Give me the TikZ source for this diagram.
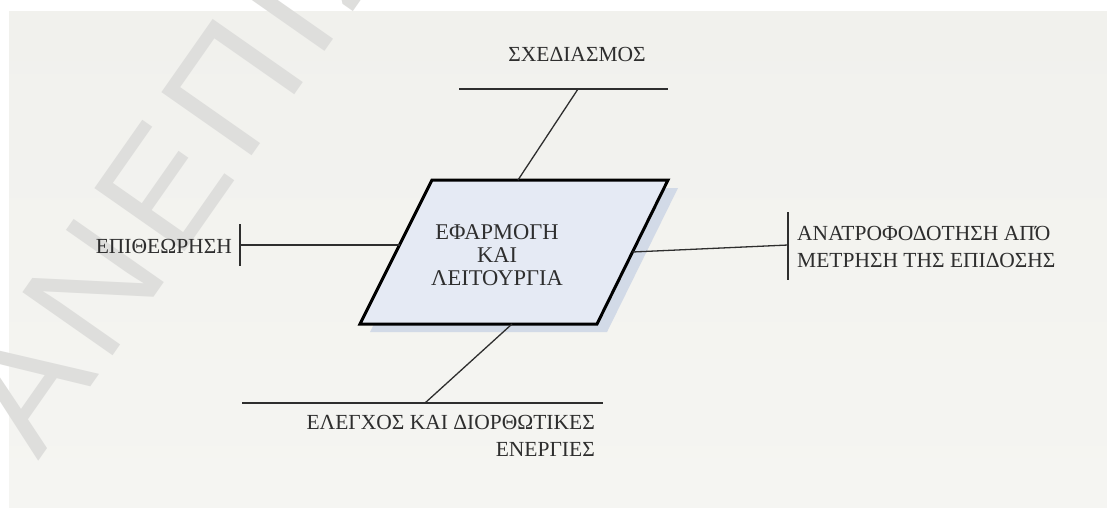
\documentclass[tikz,border=0pt]{standalone}
\usepackage{fontspec}
\setmainfont{Liberation Serif}
\newfontfamily\wmfont[LetterSpace=6.5]{Liberation Sans}
\definecolor{panel}{HTML}{F1F1ED}
\definecolor{panellow}{HTML}{F5F5F2}
\definecolor{wmgray}{HTML}{DEDEDC}
\definecolor{boxfill}{HTML}{E5EAF4}
\definecolor{boxshadow}{HTML}{D2DAE7}
\definecolor{ink}{HTML}{2E2E2E}
\tikzset{
  label/.style={font=\fontsize{21.5}{27}\selectfont, text=ink, inner sep=0pt},
  link/.style={draw=ink, line width=1.3pt},
  tick/.style={draw=ink, line width=1.6pt},
}
\begin{document}
\begin{tikzpicture}[x=1pt, y=-1pt]
  % canvas and grey panel
  \useasboundingbox (0,0) rectangle (1107,507);
  \fill[white] (0,0) rectangle (1107,507);
  \shade[top color=panel, bottom color=panellow] (9,11) rectangle (1107,507);

  % faint diagonal watermark
  \begin{scope}
    \clip (0,0) rectangle (1107,507);
    \node[anchor=base west, rotate=55, inner sep=0pt, text=wmgray,
          font=\wmfont\fontsize{160}{160}\selectfont] (wm) at (38,462) {ΑΝΕΠΙΣΗΜΟ};
  \end{scope}

  % central parallelogram with its soft shadow
  \coordinate (tl) at (432,180);
  \coordinate (tr) at (668,180);
  \coordinate (br) at (597,324);
  \coordinate (bl) at (360,324);
  \fill[boxshadow] ([shift={(10,8)}]tl) -- ([shift={(10,8)}]tr) -- ([shift={(10,8)}]br) -- ([shift={(10,8)}]bl) -- cycle;
  \filldraw[fill=boxfill, draw=black, line width=3pt, line join=miter] (tl) -- (tr) -- (br) -- (bl) -- cycle;
  \node[label, align=center, font=\fontsize{22.5}{23}\selectfont] (core) at (497,255)
    {ΕΦΑΡΜΟΓΗ\\ΚΑΙ\\ΛΕΙΤΟΥΡΓΙΑ};

  % attachment points on the parallelogram
  \coordinate (topin) at (518,180);
  \coordinate (leftin) at (399.5,245);
  \coordinate (rightin) at (632.5,252);
  \coordinate (botin) at (512,324);

  % top branch
  \coordinate (topa) at (459,89);
  \coordinate (topb) at (668,89);
  \coordinate (topj) at (578,89);
  \draw[link] (topa) -- (topb);
  \draw[link] (topj) -- (topin);
  \node[label] (plan) at (577,54) {ΣΧΕΔΙΑΣΜΟΣ};

  % left branch
  \coordinate (lefttick) at (240,245);
  \draw[tick] (240,224) -- (240,266);
  \draw[link] (lefttick) -- (leftin);
  \node[label, anchor=east] (inspect) at (232,246) {ΕΠΙΘΕΩΡΗΣΗ};

  % right branch
  \coordinate (righttick) at (788,245);
  \draw[tick] (788,212) -- (788,280);
  \draw[link] (rightin) -- (righttick);
  \node[label, anchor=west, align=left] (feedback) at (797,247)
    {ΑΝΑΤΡΟΦΟΔΟΤΗΣΗ ΑΠΌ\\ΜΕΤΡΗΣΗ ΤΗΣ ΕΠΙΔΟΣΗΣ};

  % bottom branch
  \coordinate (bota) at (242,403);
  \coordinate (botb) at (603,403);
  \coordinate (botj) at (425,403);
  \draw[link] (bota) -- (botb);
  \draw[link] (botin) -- (botj);
  \node[label, anchor=east, align=right] (control) at (595,436)
    {ΕΛΕΓΧΟΣ ΚΑΙ ΔΙΟΡΘΩΤΙΚΕΣ\\ΕΝΕΡΓΙΕΣ};
\end{tikzpicture}
\end{document}
